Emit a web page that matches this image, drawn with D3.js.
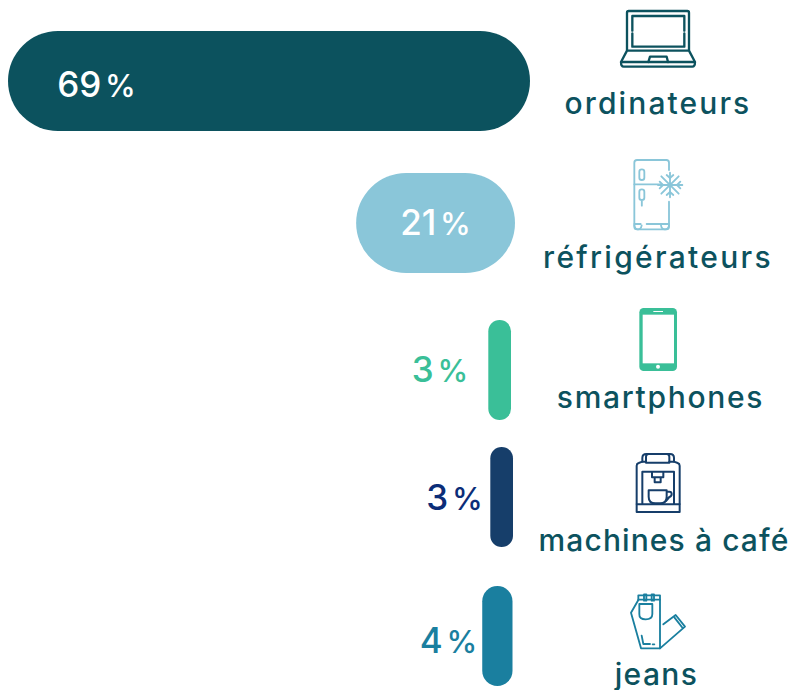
<!DOCTYPE html>
<html lang="fr"><head><meta charset="utf-8">
<script src="https://cdn.jsdelivr.net/npm/d3@7/dist/d3.min.js"></script>
<style>html,body{margin:0;padding:0;background:#fff}svg{display:block}
text{font-family:Inter,"Noto Sans",sans-serif}</style></head><body>
<svg id="c" width="792" height="690"></svg>
<script>
const categories = ["ordinateurs","réfrigérateurs","smartphones","machines à café","jeans"];
const values = [69,21,3,3,4];
const valueLabels = ["69 %","21 %","3 %","3 %","4 %"];
const barColors = ["#0c525e","#8ac6d9","#3abf98","#163e6a","#1a7f9f"];
const valueColors = ["#ffffff","#ffffff","#3abf98","#0b2d78","#1a7f9f"];

// layout of the infographic (not data)
const barRight = [530,515,511,513,512.5];
const barTop = [31,173,320,447,586];
const barHeight = 100;
const labelX = [658,658,660.5,664,656.5];
const labelY = [114,268,408,551,685];
const valueX = [96.5,435.5,440,454.5,448.5];
const valueY = [97,235,382,510,653];
const spacing = [2.1,2.3,1.7,1.1,1.4];
const iconOrigins = [[530,0],[530,0],[530,300],[530,300],[530,530]];

const x = d3.scaleLinear().domain([0,69]).range([0,522]);
const svg = d3.select("#c");

const rows = svg.selectAll("g.row").data(categories).join("g").attr("class","row");
rows.append("rect")
  .attr("x",(d,i)=>barRight[i]-x(values[i]))
  .attr("y",(d,i)=>barTop[i])
  .attr("width",(d,i)=>x(values[i]))
  .attr("height",barHeight)
  .attr("rx",(d,i)=>Math.min(x(values[i])/2,50))
  .attr("ry",(d,i)=>Math.min(x(values[i])/2,50))
  .attr("fill",(d,i)=>barColors[i]);
const valueText = rows.append("text")
  .attr("x",(d,i)=>valueX[i]).attr("y",(d,i)=>valueY[i])
  .attr("text-anchor","middle")
  .attr("font-size",35).attr("font-weight",500)
  .attr("word-spacing",-5.5)
  .attr("fill",(d,i)=>valueColors[i]);
valueText.append("tspan").text((d,i)=>valueLabels[i].split(" ")[0]+" ");
valueText.append("tspan").attr("font-size",31).text((d,i)=>valueLabels[i].split(" ")[1]);
rows.append("text")
  .attr("x",(d,i)=>labelX[i]).attr("y",(d,i)=>labelY[i])
  .attr("text-anchor","middle")
  .attr("font-size",30).attr("font-weight",500)
  .attr("letter-spacing",(d,i)=>spacing[i])
  .attr("fill","#0c525e")
  .text(d=>d);

// icons: paths in a 3x working grid, reduced to 1/3 by the group transform
const iconPaths = [
 // laptop
 {w:7,p:["M291 150V38q0-5 5-5H472q5 0 5 5V150",
   "M307 92V48H463V92M463 100V140H307V100",
   "M291 152H477L495 186q0 14-8 14H281q-8 0-8-14Z","M275 186H493",
   "M355 186L360 170H410L414 186"]},
 // fridge
 {w:5.5,p:["M417 510V488q0-8-8-8H321q-8 0-8 8V680q0 8 8 8h88q8 0 8-8V605",
   "M313 553H395","M313 672H332M350 672H417",
   "M313 676q2 12 11 12t11-12M393 676q2 12 12 12t12-12",
   "M328 515q0-7 7.5-7t7.5 7v18q0 7-7.5 7t-7.5-7Z",
   "M328 575q0-7 7.5-7t7.5 7v18q0 7-7.5 7t-7.5-7ZM335.5 600V617",
   "M384 555H457M420 518V592M394 529L446 581M446 529L394 581",
   "M410 525L420 534L430 525M410 585L420 576L430 585M389 545L399 555L389 565M451 545L441 555L451 565"]},
 // phone
 {w:0,p:[]},
 // coffee machine
 {w:6,p:["M320 612V497q0-6 6-8l11-4V474q0-12 12-12h71q12 0 12 12v11l11 4q6 2 6 8V612",
   "M348 470q0-8 8-8h54q8 0 8 8v18H348Z","M337 485H348M418 485H432",
   "M337 612V515H432V612","M366 517V532H400V517M374 532V547H392V532",
   "M320 613H449V636H320Z",
   "M356 571H410V590q0 20-20 20H376q-20 0-20-20ZM410 575h8q7 0 7 7t-7 9l-10 12"]},
 // jeans
 {w:5.5,p:["M325 196H390V355H333L303 248L325 210Z","M325 209H390",
   "M342 193V212H349V193ZM365 193V212H372V193Z",
   "M328 222H367V252q0 16-20 16t-19-16Z",
   "M335 317L340 342H360M368 343H373",
   "M390 355L465 290L437 255L400 283","M433 262L458 294"]}
];
const icons = svg.selectAll("g.icon").data(iconPaths).join("g").attr("class","icon")
  .attr("transform",(d,i)=>`translate(${iconOrigins[i][0]},${iconOrigins[i][1]}) scale(${1/3})`);
icons.each(function(d,i){
  d3.select(this).selectAll("path").data(d.p).join("path")
    .attr("d",p=>p).attr("fill","none").attr("stroke",i===0?"#0c525e":barColors[i])
    .attr("stroke-width",d.w).attr("stroke-linecap","round").attr("stroke-linejoin","round");
});
const phone = icons.filter((d,i)=>i===2);
phone.append("rect").attr("x",328).attr("y",24).attr("width",113).attr("height",189).attr("rx",13).attr("fill",barColors[2]);
phone.append("rect").attr("x",338).attr("y",44).attr("width",94).attr("height",146).attr("fill","#fff");
phone.append("rect").attr("x",370).attr("y",33).attr("width",29).attr("height",3).attr("fill","#fff");
phone.append("circle").attr("cx",384).attr("cy",200).attr("r",6).attr("fill","#fff");
</script></body></html>
